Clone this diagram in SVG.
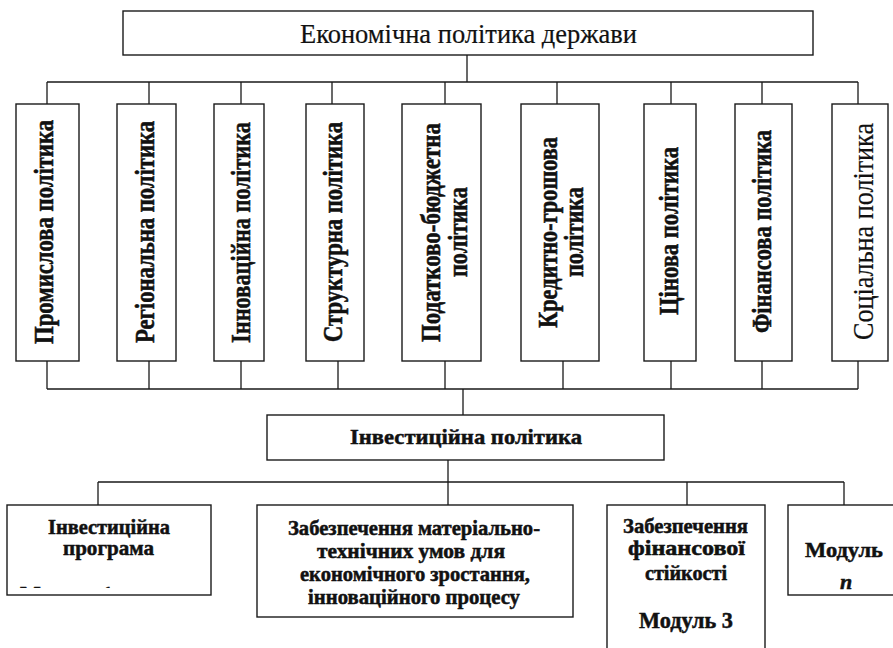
<svg xmlns="http://www.w3.org/2000/svg" width="893" height="648" viewBox="0 0 893 648">
<style>
.box{fill:#fff;stroke:#1a1a1a;stroke-width:1.4}
.ln{fill:none;stroke:#1a1a1a;stroke-width:1.3}
text{font-family:"Liberation Serif","Times New Roman",serif;fill:#111}
.r{stroke:#111;stroke-width:0.2}
.b{font-weight:bold;stroke:#111;stroke-width:0.5}
.v{font-size:27px;font-weight:bold;stroke:#111;stroke-width:0.55}
.h{font-size:20px;font-weight:bold;stroke:#111;stroke-width:0.5}
</style>
<defs>
<clipPath id="clipA"><rect x="8" y="506" width="202" height="82"/></clipPath>
</defs>
<g id="connectors" class="ln">
<path d="M467 55V82M47 82H858M47 82V104M149 82V104M241 82V104M332 82V104M445 82V104M557 82V104M671 82V104M762 82V104M858 82V104"/>
<path d="M47 361V389M149 361V389M241 361V389M338 361V389M445 361V389M563 361V389M671 361V389M762 361V389M858 361V389M47 389H858M463 389V415"/>
<path d="M448 460V505M98 482H844M98 482V505M687 482V505M844 482V505"/>
</g>
<g id="node-top">
<rect class="box" x="123" y="11" width="690" height="44"/>
<text class="r" x="300" y="43" font-size="27" textLength="337" lengthAdjust="spacingAndGlyphs">Економічна політика держави</text>
</g>
<g id="node-p1">
<rect class="box" x="16" y="104" width="63" height="257"/>
<text class="v" transform="translate(53,344) rotate(-90)" textLength="224" lengthAdjust="spacingAndGlyphs">Промислова політика</text>
</g>
<g id="node-p2">
<rect class="box" x="117" y="104" width="59" height="257"/>
<text class="v" transform="translate(154,343) rotate(-90)" textLength="222" lengthAdjust="spacingAndGlyphs">Регіональна політика</text>
</g>
<g id="node-p3">
<rect class="box" x="214" y="104" width="50" height="257"/>
<text class="v" transform="translate(250,343) rotate(-90)" textLength="221" lengthAdjust="spacingAndGlyphs">Інноваційна політика</text>
</g>
<g id="node-p4">
<rect class="box" x="306" y="104" width="58" height="257"/>
<text class="v" transform="translate(342,342) rotate(-90)" textLength="220" lengthAdjust="spacingAndGlyphs">Структурна політика</text>
</g>
<g id="node-p5">
<rect class="box" x="402" y="104" width="79" height="257"/>
<text class="v" transform="translate(440,342) rotate(-90)" textLength="219" lengthAdjust="spacingAndGlyphs">Податково-бюджетна</text>
<text class="v" transform="translate(467,277) rotate(-90)" textLength="90" lengthAdjust="spacingAndGlyphs">політика</text>
</g>
<g id="node-p6">
<rect class="box" x="521" y="104" width="78" height="257"/>
<text class="v" transform="translate(557,328) rotate(-90)" textLength="191" lengthAdjust="spacingAndGlyphs">Кредитно-грошова</text>
<text class="v" transform="translate(583,277) rotate(-90)" textLength="90" lengthAdjust="spacingAndGlyphs">політика</text>
</g>
<g id="node-p7">
<rect class="box" x="644" y="104" width="52" height="257"/>
<text class="v" transform="translate(678,315) rotate(-90)" textLength="168" lengthAdjust="spacingAndGlyphs">Цінова політика</text>
</g>
<g id="node-p8">
<rect class="box" x="735" y="104" width="57" height="257"/>
<text class="v" transform="translate(771,333) rotate(-90)" textLength="203" lengthAdjust="spacingAndGlyphs">Фінансова політика</text>
</g>
<g id="node-p9">
<rect class="box" x="832" y="104" width="56" height="257"/>
<text class="r" transform="translate(873,340) rotate(-90)" font-size="29" textLength="217" lengthAdjust="spacingAndGlyphs">Соціальна політика</text>
</g>
<g id="node-invest">
<rect class="box" x="267" y="415" width="397" height="45"/>
<text class="b" x="350" y="444" font-size="22" textLength="232" lengthAdjust="spacingAndGlyphs">Інвестиційна політика</text>
</g>
<g id="node-a">
<rect class="box" x="7" y="505" width="204" height="90"/>
<text class="h" x="48" y="534" textLength="122" lengthAdjust="spacingAndGlyphs">Інвестиційна</text>
<text class="h" x="63" y="555" textLength="91" lengthAdjust="spacingAndGlyphs">програма</text>
<text class="b" x="20" y="601" font-size="22" clip-path="url(#clipA)">Модуль 1</text>
</g>
<g id="node-b">
<rect class="box" x="257" y="505" width="316" height="112"/>
<text class="h" x="288" y="535" textLength="252" lengthAdjust="spacingAndGlyphs">Забезпечення матеріально-</text>
<text class="h" x="317" y="558" textLength="188" lengthAdjust="spacingAndGlyphs">технічних умов для</text>
<text class="h" x="300" y="581" textLength="230" lengthAdjust="spacingAndGlyphs">економічного зростання,</text>
<text class="h" x="308" y="604" textLength="212" lengthAdjust="spacingAndGlyphs">інноваційного процесу</text>
</g>
<g id="node-c">
<rect class="box" x="607" y="505" width="158" height="160"/>
<text class="h" x="623" y="533" textLength="125" lengthAdjust="spacingAndGlyphs">Забезпечення</text>
<text class="h" x="628" y="555" textLength="117" lengthAdjust="spacingAndGlyphs">фінансової</text>
<text class="h" x="645" y="580" textLength="82" lengthAdjust="spacingAndGlyphs">стійкості</text>
<text class="b" x="639" y="628" font-size="23" textLength="94" lengthAdjust="spacingAndGlyphs">Модуль 3</text>
</g>
<g id="node-d">
<rect class="box" x="788" y="505" width="120" height="90"/>
<text class="b" x="805" y="557" font-size="22" textLength="78" lengthAdjust="spacingAndGlyphs">Модуль</text>
<text class="b" x="840" y="589" font-size="22" font-style="italic">n</text>
</g>
</svg>
